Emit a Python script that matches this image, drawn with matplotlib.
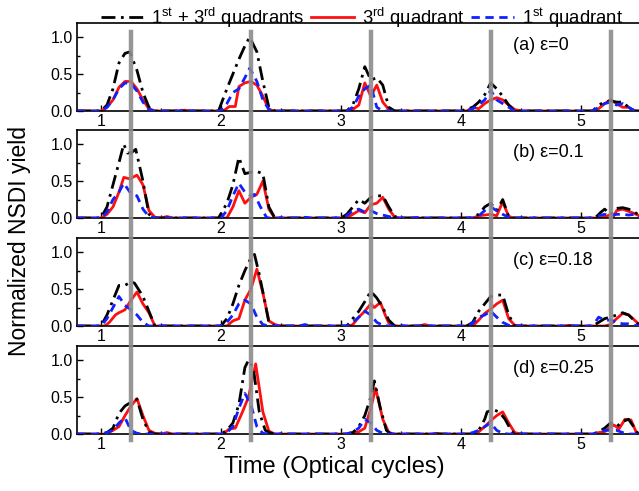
import matplotlib
matplotlib.use("Agg")
import matplotlib.pyplot as plt
from matplotlib.lines import Line2D
from matplotlib.transforms import blended_transform_factory
from matplotlib.ticker import MultipleLocator

plt.rcParams['font.family'] = ['Liberation Sans', 'DejaVu Sans']
plt.rcParams['mathtext.fontset'] = 'custom'
plt.rcParams['mathtext.rm'] = 'Liberation Sans'

# (time in optical cycles, normalized yield) breakpoints for each curve
a_both = [(0.8, 0), (1.0, 0), (1.05, 0.08), (1.1, 0.3), (1.15, 0.65), (1.2, 0.78), (1.24, 0.8), (1.3, 0.55),
          (1.35, 0.25), (1.4, 0.05), (1.45, 0), (1.98, 0), (2.05, 0.3), (2.1, 0.5), (2.15, 0.7), (2.2, 0.88),
          (2.24, 1.0), (2.3, 0.8), (2.35, 0.4), (2.4, 0.05), (2.45, 0), (3.05, 0), (3.1, 0.08), (3.15, 0.3),
          (3.2, 0.6), (3.25, 0.42), (3.3, 0.45), (3.35, 0.35), (3.4, 0.05), (3.45, 0), (4.0, 0), (4.1, 0.05),
          (4.15, 0.12), (4.2, 0.22), (4.25, 0.38), (4.3, 0.3), (4.35, 0.2), (4.4, 0.08), (4.45, 0), (5.1, 0),
          (5.15, 0.08), (5.2, 0.12), (5.25, 0.14), (5.3, 0.12), (5.35, 0.12), (5.4, 0.05), (5.45, 0), (5.5, 0)]
a_third = [(0.8, 0), (1.0, 0), (1.05, 0.05), (1.1, 0.15), (1.15, 0.32), (1.2, 0.4), (1.25, 0.4), (1.3, 0.3),
           (1.35, 0.15), (1.4, 0.03), (1.45, 0), (1.65, 0), (1.7, 0.01), (1.75, 0), (2.02, 0), (2.07, 0.06),
           (2.12, 0.06), (2.15, 0.33), (2.2, 0.38), (2.25, 0.4), (2.3, 0.35), (2.35, 0.2), (2.4, 0.02), (2.45, 0),
           (3.05, 0), (3.1, 0.02), (3.15, 0.08), (3.2, 0.38), (3.25, 0.2), (3.3, 0.35), (3.35, 0.12), (3.4, 0.02),
           (3.45, 0), (4.05, 0), (4.1, 0.05), (4.15, 0.03), (4.2, 0.1), (4.25, 0.15), (4.3, 0.18), (4.35, 0.15),
           (4.4, 0.08), (4.45, 0.02), (4.5, 0), (5.1, 0), (5.15, 0.03), (5.2, 0.1), (5.25, 0.15), (5.3, 0.1),
           (5.35, 0.05), (5.4, 0.05), (5.45, 0), (5.5, 0)]
a_first = [(0.8, 0), (1.0, 0), (1.05, 0.05), (1.1, 0.15), (1.15, 0.3), (1.2, 0.38), (1.25, 0.37), (1.3, 0.27),
           (1.35, 0.12), (1.4, 0.02), (1.45, 0), (1.65, 0), (1.7, 0.02), (1.75, 0), (2.0, 0), (2.05, 0.1),
           (2.1, 0.25), (2.15, 0.3), (2.2, 0.45), (2.24, 0.58), (2.3, 0.4), (2.35, 0.15), (2.4, 0.02), (2.45, 0),
           (3.05, 0), (3.1, 0.05), (3.15, 0.2), (3.2, 0.3), (3.25, 0.35), (3.3, 0.05), (3.35, 0), (4.05, 0),
           (4.1, 0.03), (4.15, 0.08), (4.2, 0.15), (4.25, 0.28), (4.3, 0.15), (4.35, 0.1), (4.4, 0.05), (4.45, 0),
           (5.1, 0), (5.15, 0.05), (5.2, 0.1), (5.25, 0.12), (5.3, 0.08), (5.35, 0.1), (5.4, 0.05), (5.45, 0),
           (5.5, 0)]

b_both = [(0.8, 0), (1.0, 0), (1.05, 0.15), (1.1, 0.45), (1.15, 0.75), (1.19, 1.0), (1.22, 0.88), (1.25, 0.88),
          (1.29, 0.93), (1.35, 0.5), (1.4, 0.05), (1.45, 0), (1.98, 0), (2.05, 0.2), (2.1, 0.45), (2.15, 0.82),
          (2.2, 0.6), (2.25, 0.62), (2.3, 0.63), (2.35, 0.6), (2.4, 0.15), (2.45, 0), (3.0, 0), (3.05, 0.05),
          (3.1, 0.15), (3.15, 0.25), (3.2, 0.2), (3.25, 0.28), (3.3, 0.3), (3.35, 0.3), (3.4, 0.15), (3.45, 0.02),
          (3.5, 0), (4.08, 0), (4.15, 0.05), (4.2, 0.15), (4.25, 0.2), (4.3, 0.1), (4.35, 0.25), (4.4, 0.02),
          (4.45, 0), (5.12, 0), (5.17, 0.08), (5.2, 0.12), (5.25, 0.05), (5.3, 0.13), (5.35, 0.14), (5.4, 0.12),
          (5.45, 0.08), (5.5, 0.02)]
b_third = [(0.8, 0), (1.0, 0), (1.05, 0.05), (1.1, 0.15), (1.15, 0.35), (1.19, 0.55), (1.24, 0.53), (1.3, 0.58),
           (1.35, 0.45), (1.4, 0.1), (1.45, 0.01), (1.5, 0), (1.55, 0.02), (1.6, 0), (2.05, 0), (2.1, 0.15),
           (2.15, 0.37), (2.2, 0.2), (2.25, 0.28), (2.3, 0.32), (2.35, 0.5), (2.4, 0.12), (2.45, 0), (3.05, 0),
           (3.1, 0.05), (3.15, 0.1), (3.2, 0.07), (3.25, 0.18), (3.3, 0.2), (3.35, 0.28), (3.4, 0.12), (3.45, 0.01),
           (3.5, 0), (4.1, 0), (4.15, 0.03), (4.25, 0.05), (4.3, 0.03), (4.35, 0.22), (4.4, 0.02), (4.45, 0),
           (5.15, 0), (5.2, 0.01), (5.25, 0.05), (5.27, 0.01), (5.3, 0.1), (5.35, 0.12), (5.4, 0.09), (5.45, 0.06),
           (5.5, 0.02)]
b_first = [(0.8, 0), (1.0, 0), (1.05, 0.08), (1.1, 0.25), (1.15, 0.35), (1.19, 0.47), (1.25, 0.33), (1.3, 0.3),
           (1.35, 0.12), (1.4, 0.02), (1.45, 0), (2.0, 0), (2.05, 0.1), (2.1, 0.3), (2.15, 0.47), (2.2, 0.35),
           (2.25, 0.3), (2.28, 0.32), (2.33, 0.15), (2.38, 0.01), (2.4, 0), (2.65, 0), (2.7, 0.01), (2.75, 0),
           (3.0, 0), (3.05, 0.03), (3.1, 0.1), (3.15, 0.12), (3.2, 0.08), (3.25, 0.1), (3.3, 0.06), (3.35, 0.04),
           (3.4, 0.02), (3.45, 0), (3.6, 0), (3.65, 0.01), (3.7, 0), (4.1, 0), (4.15, 0.03), (4.2, 0.1),
           (4.25, 0.15), (4.3, 0.1), (4.35, 0.05), (4.4, 0.01), (4.45, 0), (5.1, 0), (5.15, 0.03), (5.2, 0.05),
           (5.25, 0.03), (5.3, 0.05), (5.35, 0.05), (5.4, 0.04), (5.45, 0.05), (5.5, 0)]

c_both = [(0.8, 0), (1.0, 0), (1.05, 0.15), (1.1, 0.35), (1.15, 0.55), (1.2, 0.55), (1.25, 0.6), (1.28, 0.58),
          (1.35, 0.4), (1.4, 0.2), (1.45, 0), (2.0, 0), (2.05, 0.1), (2.1, 0.3), (2.15, 0.55), (2.2, 0.75),
          (2.25, 0.92), (2.28, 0.97), (2.32, 0.7), (2.37, 0.3), (2.4, 0.05), (2.45, 0), (3.05, 0), (3.1, 0.1),
          (3.15, 0.2), (3.2, 0.33), (3.25, 0.47), (3.3, 0.38), (3.35, 0.25), (3.4, 0.08), (3.45, 0), (4.05, 0),
          (4.1, 0.05), (4.15, 0.2), (4.2, 0.3), (4.25, 0.4), (4.3, 0.42), (4.35, 0.42), (4.4, 0.15), (4.45, 0),
          (5.1, 0), (5.15, 0.05), (5.2, 0.1), (5.25, 0.12), (5.3, 0.15), (5.35, 0.18), (5.4, 0.15), (5.45, 0.07),
          (5.5, 0)]
c_third = [(0.8, 0), (1.03, 0), (1.07, 0.05), (1.12, 0.15), (1.15, 0.18), (1.2, 0.22), (1.25, 0.35), (1.3, 0.46),
           (1.35, 0.3), (1.4, 0.18), (1.45, 0), (2.05, 0), (2.1, 0.07), (2.15, 0.1), (2.2, 0.35), (2.25, 0.5),
           (2.3, 0.77), (2.35, 0.45), (2.4, 0.07), (2.45, 0.02), (2.5, 0), (3.07, 0), (3.1, 0.02), (3.15, 0.12),
           (3.2, 0.2), (3.25, 0.3), (3.28, 0.25), (3.33, 0.32), (3.37, 0.15), (3.4, 0.04), (3.45, 0), (3.65, 0),
           (3.7, 0.02), (3.75, 0), (4.1, 0), (4.15, 0.08), (4.2, 0.17), (4.25, 0.23), (4.3, 0.3), (4.35, 0.35),
           (4.4, 0.1), (4.45, 0.01), (4.5, 0), (4.85, 0), (4.9, 0.01), (4.95, 0), (5.2, 0), (5.25, 0.02),
           (5.3, 0.1), (5.35, 0.17), (5.4, 0.15), (5.45, 0.08), (5.5, 0)]
c_first = [(0.8, 0), (1.0, 0), (1.05, 0.1), (1.1, 0.25), (1.15, 0.4), (1.2, 0.28), (1.25, 0.22), (1.3, 0.15),
           (1.35, 0.05), (1.4, 0), (2.0, 0), (2.05, 0.05), (2.1, 0.15), (2.15, 0.3), (2.2, 0.35), (2.25, 0.3),
           (2.3, 0.12), (2.35, 0.02), (2.4, 0), (2.65, 0), (2.7, 0.02), (2.75, 0), (3.05, 0), (3.1, 0.05),
           (3.15, 0.12), (3.2, 0.2), (3.25, 0.15), (3.3, 0.05), (3.35, 0.01), (3.4, 0), (4.05, 0), (4.1, 0.04),
           (4.15, 0.12), (4.2, 0.15), (4.25, 0.2), (4.3, 0.12), (4.35, 0.05), (4.4, 0.01), (4.45, 0), (5.1, 0),
           (5.15, 0.12), (5.2, 0.08), (5.25, 0.08), (5.3, 0.05), (5.35, 0.03), (5.4, 0.03), (5.45, 0.01), (5.5, 0)]

d_both = [(0.8, 0), (1.0, 0), (1.05, 0.02), (1.1, 0.08), (1.15, 0.28), (1.2, 0.38), (1.25, 0.43), (1.3, 0.47),
          (1.35, 0.2), (1.4, 0.03), (1.45, 0), (2.0, 0), (2.05, 0.05), (2.1, 0.15), (2.15, 0.4), (2.2, 0.9),
          (2.23, 1.0), (2.27, 0.9), (2.32, 0.3), (2.37, 0.05), (2.42, 0.01), (2.47, 0), (3.05, 0), (3.1, 0.02),
          (3.15, 0.1), (3.2, 0.25), (3.25, 0.5), (3.28, 0.72), (3.33, 0.35), (3.38, 0.05), (3.42, 0), (4.1, 0),
          (4.15, 0.05), (4.2, 0.2), (4.22, 0.3), (4.27, 0.33), (4.32, 0.3), (4.37, 0.2), (4.42, 0.05), (4.45, 0),
          (5.1, 0), (5.15, 0.03), (5.2, 0.08), (5.25, 0.15), (5.3, 0.1), (5.35, 0.17), (5.4, 0.2), (5.45, 0.08),
          (5.48, 0)]
d_third = [(0.8, 0), (1.03, 0), (1.1, 0.05), (1.15, 0.1), (1.2, 0.25), (1.25, 0.38), (1.3, 0.48), (1.35, 0.25),
           (1.4, 0.05), (1.45, 0.01), (1.5, 0), (1.55, 0.02), (1.6, 0), (2.02, 0), (2.07, 0.07), (2.12, 0.08),
           (2.18, 0.3), (2.23, 0.5), (2.29, 0.95), (2.35, 0.3), (2.4, 0.04), (2.45, 0), (3.05, 0), (3.1, 0.02),
           (3.15, 0.03), (3.2, 0.08), (3.25, 0.35), (3.29, 0.62), (3.35, 0.2), (3.4, 0.02), (3.45, 0), (3.75, 0),
           (3.8, 0.01), (3.85, 0), (4.1, 0), (4.15, 0.03), (4.2, 0.1), (4.25, 0.18), (4.3, 0.25), (4.35, 0.3),
           (4.4, 0.15), (4.45, 0.02), (4.5, 0), (5.1, 0), (5.15, 0.02), (5.2, 0.03), (5.25, 0.1), (5.28, 0.12),
           (5.32, 0.07), (5.37, 0.2), (5.42, 0.19), (5.47, 0)]
d_first = [(0.8, 0), (1.0, 0), (1.05, 0.02), (1.1, 0.05), (1.15, 0.15), (1.2, 0.22), (1.25, 0.05), (1.3, 0.01),
           (1.35, 0), (2.0, 0), (2.05, 0.02), (2.1, 0.1), (2.15, 0.35), (2.2, 0.55), (2.25, 0.4), (2.3, 0.1),
           (2.35, 0.01), (2.4, 0), (3.05, 0), (3.1, 0.03), (3.15, 0.08), (3.2, 0.2), (3.25, 0.15), (3.3, 0.05),
           (3.35, 0.01), (3.4, 0), (4.05, 0), (4.1, 0.02), (4.15, 0.05), (4.2, 0.1), (4.25, 0.15), (4.3, 0.05),
           (4.35, 0.01), (4.4, 0), (5.1, 0), (5.15, 0.02), (5.2, 0.05), (5.25, 0.05), (5.3, 0.05), (5.35, 0.02),
           (5.4, 0), (5.5, 0)]

panel_labels = ['(a) ε=0', '(b) ε=0.1', '(c) ε=0.18', '(d) ε=0.25']
panel_curves = [(a_both, a_third, a_first), (b_both, b_third, b_first),
                (c_both, c_third, c_first), (d_both, d_third, d_first)]
marker_times = [1.25, 2.25, 3.25, 4.25, 5.25]
series_names = [r'1$^{\rm st}$ + 3$^{\rm rd}$ quadrants', r'3$^{\rm rd}$ quadrant', r'1$^{\rm st}$ quadrant']

fig = plt.figure(figsize=(6.39, 4.91), dpi=100)
bottoms = [0.774, 0.556, 0.336, 0.116]
axes = []
for bot, label, curves in zip(bottoms, panel_labels, panel_curves):
    ax = fig.add_axes([0.1205, bot, 0.882, 0.179])
    both, third, first = curves
    ax.plot(*zip(*both), color='black', lw=2, ls=(0, (5, 2, 1, 2)), zorder=3)
    ax.plot(*zip(*third), color='#ff1010', lw=2, zorder=2)
    ax.plot(*zip(*first), color='#1020ff', lw=2, ls=(0, (3, 2)), zorder=4)
    ax.set_xlim(0.8, 5.5)
    ax.set_ylim(0, 1.19)
    ax.set_xticks([1, 2, 3, 4, 5])
    ax.set_yticks([0, 0.5, 1.0])
    ax.set_yticklabels(['0.0', '0.5', '1.0'])
    ax.xaxis.set_minor_locator(MultipleLocator(0.5))
    ax.yaxis.set_minor_locator(MultipleLocator(0.25))
    ax.tick_params(which='both', direction='in', labelsize=11.5, width=1)
    ax.tick_params(which='major', length=4)
    ax.tick_params(which='minor', length=2)
    ax.tick_params(axis='x', pad=2)
    ax.tick_params(axis='y', pad=3)
    for s in ax.spines.values():
        s.set_linewidth(1.2)
    ax.text(0.774, 0.75, label, transform=ax.transAxes, fontsize=13, va='center')
    axes.append(ax)

# gray guide lines running through all four panels
trans = blended_transform_factory(axes[0].transData, fig.transFigure)
for t in marker_times:
    fig.add_artist(Line2D([t, t], [0.104, 0.935], transform=trans, color='#8c8c8c', lw=3.2, alpha=0.9, zorder=5))

handles = [Line2D([], [], color='black', lw=2, ls=(0, (5, 2, 1, 2))),
           Line2D([], [], color='#ff1010', lw=2),
           Line2D([], [], color='#1020ff', lw=2, ls=(0, (3, 2)))]
fig.legend(handles, series_names, loc='upper left', bbox_to_anchor=(0.146, 1.004), ncol=3, frameon=False,
           fontsize=13.3, handlelength=2.3, columnspacing=0.35, handletextpad=0.45, borderaxespad=0)

fig.text(0.031, 0.51, 'Normalized NSDI yield', rotation=90, fontsize=16.5, va='center', ha='center')
fig.text(0.523, 0.049, 'Time (Optical cycles)', fontsize=17, va='center', ha='center')

fig.savefig('out.png', dpi=100)
